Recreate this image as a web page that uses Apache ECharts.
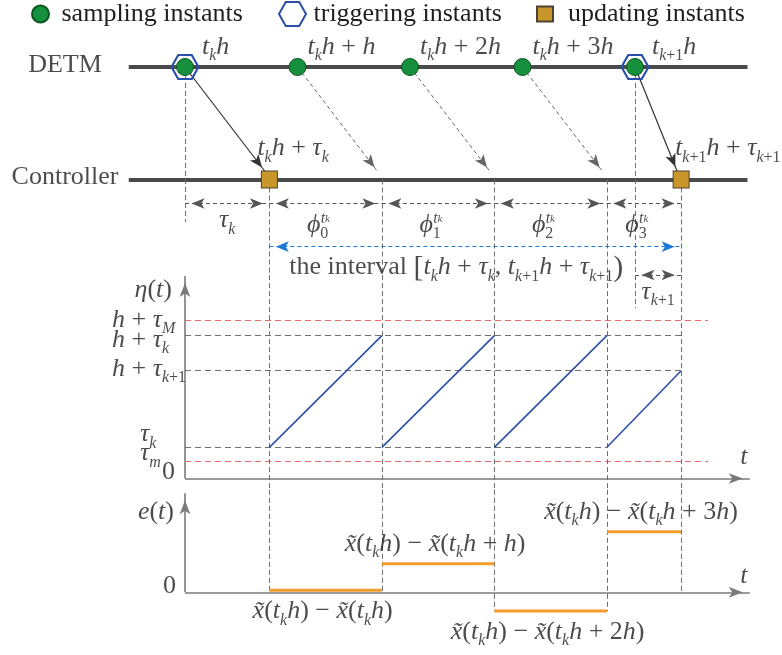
<!DOCTYPE html>
<html>
<head>
<meta charset="utf-8">
<script src="https://cdn.jsdelivr.net/npm/echarts@6/dist/echarts.min.js"></script>
<style>html,body{margin:0;padding:0;background:#fff}#c{width:782px;height:655px}</style>
</head>
<body>
<div id="c"></div>
<script>
// ---------------- data (time axis in units of h, t_k h = 0) ----------------
const samplingTimes = [0, 1, 2, 3, 4];              // t_k h + i h
const triggerTimes = [0, 4];                        // t_k h, t_{k+1} h
const arrivalTimes = [0.75, 1.75, 2.75, 3.75, 4.41]; // arrival instants at the controller
const updateTimes = [0.75, 4.41];                   // t_k h + tau_k, t_{k+1} h + tau_{k+1}
const intervalEdges = [0, 0.75, 1.75, 2.75, 3.75, 4.41];
const etaLevels = [1.403, 1.264, 0.954, 0.276, 0.149]; // h+tauM, h+tauk, h+tauk+1, tauk, taum
const etaLevelEnds = [4.65, 4.41, 4.41, 3.75, 4.65];
const etaLevelBound = [true, false, false, false, true];
const etaStarts = [0.276, 0.276, 0.276, 0.276];
const etaEnds = [1.264, 1.264, 1.264, 0.954];
const eValues = [0.02, 0.286, -0.187, 0.606];

// ---------------- texts ----------------
const legendNames = ['sampling instants', 'triggering instants', 'updating instants'];
const rowNames = ['DETM', 'Controller'];
const samplingLabels = [
  '{m|t}{s|k}{m|h}',
  '{m|t}{s|k}{m|h}{r| + }{m|h}',
  '{m|t}{s|k}{m|h}{r| + 2}{m|h}',
  '{m|t}{s|k}{m|h}{r| + 3}{m|h}',
  '{m|t}{s|k}{sr|+1}{m|h}'
];
const updateLabels = [
  '{m|t}{s|k}{m|h}{r| + }{m|τ}{s|k}',
  '{m|t}{s|k}{sr|+1}{m|h}{r| + }{m|τ}{s|k}{sr|+1}'
];
const intervalLabels = ['{m|τ}{s|k}', '{m|ϕ}{sr|0}', '{m|ϕ}{sr|1}', '{m|ϕ}{sr|2}', '{m|ϕ}{sr|3}'];
const intervalSup = '{p|t}{pk|k}';
const spanLabel = '{r|the interval }{br|[}{m|t}{s|k}{m|h}{r| + }{m|τ}{s|k}{r|, }{m|t}{s|k}{sr|+1}{m|h}{r| + }{m|τ}{s|k}{sr|+1}{br|)}';
const nextDelayLabel = '{m|τ}{s|k}{sr|+1}';
const etaName = '{m|η}{r|(}{m|t}{r|)}';
const etaLabels = [
  '{m|h}{r| + }{m|τ}{s|M}',
  '{m|h}{r| + }{m|τ}{s|k}',
  '{m|h}{r| + }{m|τ}{s|k}{sr|+1}',
  '{m|τ}{s|k}',
  '{m|τ}{s|m}'
];
const eName = '{m|e}{r|(}{m|t}{r|)}';
const eLabels = [
  '{m|x̃}{r|(}{m|t}{s|k}{m|h}{r|) − }{m|x̃}{r|(}{m|t}{s|k}{m|h}{r|)}',
  '{m|x̃}{r|(}{m|t}{s|k}{m|h}{r|) − }{m|x̃}{r|(}{m|t}{s|k}{m|h}{r| + }{m|h}{r|)}',
  '{m|x̃}{r|(}{m|t}{s|k}{m|h}{r|) − }{m|x̃}{r|(}{m|t}{s|k}{m|h}{r| + 2}{m|h}{r|)}',
  '{m|x̃}{r|(}{m|t}{s|k}{m|h}{r|) − }{m|x̃}{r|(}{m|t}{s|k}{m|h}{r| + 3}{m|h}{r|)}'
];
const zeroLabel = '{r|0}';
const timeName = '{m|t}';

// ---------------- layout & style ----------------
const FONT = '"Liberation Serif","Times New Roman",serif';
const INK = '#1e1e1e';
const DETM = 1, CTRL = 0;
const Y = {dim: -0.213, span: -0.597, next: -0.849, guideEnd: -0.85, t0End: -0.378, t4End: -1.142, tip: 0.06, gap: 0.03};
const C = {
  base: '#4a4a4a', guide: '#6e6e6e', dim: '#555', diag: '#666', solid: '#333', blue: '#1c7ad4',
  red: '#e86a6a', ref: '#707070', eta: '#2d50a6', e: '#f39c2b', axis: '#7a7a7a',
  green: '#16903c', greenB: '#0b5523', hex: '#2a4fa8', gold: '#c9962b', goldB: '#4a4232'
};
const HEX = 'path://M0,12 L6.75,0 L20.25,0 L27,12 L20.25,24 L6.75,24 Z';
const SQ = 'path://M0,0 L16,0 L16,15 L0,15 Z';

const rich = {
  r: {fontFamily: FONT, fontSize: 26, lineHeight: 34, color: INK},
  m: {fontFamily: FONT, fontStyle: 'italic', fontSize: 26, lineHeight: 34, color: INK},
  br: {fontFamily: FONT, fontSize: 30, lineHeight: 34, color: INK},
  s: {fontFamily: FONT, fontStyle: 'italic', fontSize: 16, lineHeight: 13, verticalAlign: 'bottom', color: INK},
  sr: {fontFamily: FONT, fontSize: 16, lineHeight: 13, verticalAlign: 'bottom', color: INK},
  p: {fontFamily: FONT, fontStyle: 'italic', fontSize: 16, lineHeight: 14, verticalAlign: 'top', color: INK},
  pk: {fontFamily: FONT, fontStyle: 'italic', fontSize: 11, lineHeight: 4, verticalAlign: 'bottom', color: INK}
};

const dash = (color, width, d) => ({color, width, type: d || [5, 3], opacity: 1});
const solid = (color, width) => ({color, width, type: 'solid', opacity: 1});

function seg(p1, p2, lineStyle, arrows, size) {
  const sz = size || [8, 13];
  const A = {symbol: 'arrow', symbolSize: sz, symbolOffset: [0, sz[1] / 2]};
  const N = {symbol: 'none'};
  return [Object.assign({coord: p1, lineStyle}, arrows === 2 ? A : N),
          Object.assign({coord: p2}, arrows >= 1 ? A : N)];
}
function decor(grid, lines, z) {
  return {
    type: 'line', xAxisIndex: grid, yAxisIndex: grid, data: [], z: z || 1, silent: true, animation: false,
    markLine: {silent: true, animation: false, symbol: 'none', label: {show: false},
      emphasis: {disabled: true}, data: lines}
  };
}
function lab(coord, text, dx, dy, align) {
  return {value: coord, text, label: {offset: [dx, dy], align: align || 'center'}};
}
function labels(grid, items) {
  return {
    type: 'scatter', xAxisIndex: grid, yAxisIndex: grid, symbolSize: 0, silent: true, animation: false, z: 10,
    label: {show: true, position: 'inside', verticalAlign: 'middle', formatter: p => p.data.text, rich},
    data: items
  };
}

// ---------- grid A: DETM / controller timelines ----------
const aLines = [
  seg([-0.5, DETM], [5.0, DETM], solid(C.base, 4), 0),
  seg([-0.5, CTRL], [5.0, CTRL], solid(C.base, 4), 0),
  seg([triggerTimes[0], DETM], [triggerTimes[0], Y.t0End], dash(C.guide, 1), 0),
  seg([triggerTimes[1], DETM], [triggerTimes[1], Y.t4End], dash(C.guide, 1), 0)
];
arrivalTimes.forEach(t => aLines.push(seg([t, CTRL], [t, Y.guideEnd], dash(C.guide, 1), 0)));
for (let i = 0; i < intervalEdges.length - 1; i++) {
  aLines.push(seg([intervalEdges[i], Y.dim], [intervalEdges[i + 1], Y.dim], dash(C.dim, 1, [4, 3]), 2, [8, 13]));
}
aLines.push(seg([updateTimes[0], Y.span], [updateTimes[1], Y.span], dash(C.blue, 1.2, [4, 3]), 2, [8, 13]));
aLines.push(seg([triggerTimes[1], Y.next], [updateTimes[1], Y.next], dash(C.dim, 1, [4, 3]), 2, [8, 13]));

const txLines = samplingTimes.map((s, i) => {
  const trig = triggerTimes.indexOf(s) >= 0;
  return seg([s, DETM], [arrivalTimes[i] - Y.gap, Y.tip],
    trig ? solid(C.solid, 1.2) : dash(C.diag, 1, [4, 3]), 1, [8, 13]);
});

const aLabels = [];
rowNames.forEach((n, i) => aLabels.push(lab([-0.5, i === 0 ? DETM : CTRL], '{r|' + n + '}', -63.75, -2)));
samplingLabels.forEach((t, i) => aLabels.push(
  lab([samplingTimes[i], DETM], t, triggerTimes.indexOf(samplingTimes[i]) >= 0 ? 17 : 10, -20, 'left')));
updateLabels.forEach((t, i) => aLabels.push(lab([updateTimes[i], CTRL], t, i === 0 ? -12 : -6, -31, 'left')));
intervalLabels.forEach((t, i) => {
  const mid = (intervalEdges[i] + intervalEdges[i + 1]) / 2;
  if (i === 0) { aLabels.push(lab([mid, Y.dim], t, 0, 17)); return; }
  aLabels.push(lab([mid, Y.dim], t, -8, 21.5));
  aLabels.push(lab([mid, Y.dim], intervalSup, -5, 14.5, 'left'));
});
aLabels.push(lab([(updateTimes[0] + updateTimes[1]) / 2, Y.span], spanLabel, -19, 21));
aLabels.push(lab([(triggerTimes[1] + updateTimes[1]) / 2, Y.next], nextDelayLabel, 0, 17));

// ---------- grid B: eta(t) ----------
const bLines = [
  seg([0, 0], [0, 1.792], solid(C.axis, 1.6), 1, [8, 14]),
  seg([0, 0], [5.02, 0], solid(C.axis, 1.6), 1, [8, 14])
];
etaLevels.forEach((v, i) => bLines.push(
  seg([0, v], [etaLevelEnds[i], v], etaLevelBound[i] ? dash(C.red, 1, [6, 4]) : dash(C.ref, 1, [6, 4]), 0)));
arrivalTimes.forEach(t => bLines.push(seg([t, 1.8], [t, -0.1], dash(C.guide, 1), 0)));

const etaSeries = etaStarts.map((v, i) => ({
  type: 'line', xAxisIndex: 1, yAxisIndex: 1, silent: true, animation: false, showSymbol: false, z: 5,
  lineStyle: {color: C.eta, width: 1.6},
  data: [[arrivalTimes[i], v], [arrivalTimes[i + 1], etaEnds[i]]]
}));

const etaDy = [0, 4.5, -2, -13, -8];
const bLabels = [lab([0, 1.792], etaName, -13, 14, 'right')];
etaLabels.forEach((t, i) => bLabels.push(lab([0, etaLevels[i]], t, i < 3 ? -73 : -45, etaDy[i], 'left')));
bLabels.push(lab([0, 0], zeroLabel, -23, -6.5, 'left'));
bLabels.push(lab([5.02, 0], timeName, -6, -21));

// ---------- grid C: e(t) ----------
const cLines = [
  seg([0, 0], [0, 0.99], solid(C.axis, 1.6), 1, [8, 14]),
  seg([0, 0], [5.02, 0], solid(C.axis, 1.6), 1, [8, 14])
];
arrivalTimes.forEach((t, i) => {
  const neighbours = [0];
  if (i > 0) neighbours.push(eValues[i - 1]);
  if (i < eValues.length) neighbours.push(eValues[i]);
  cLines.push(seg([t, 1.025], [t, Math.min.apply(null, neighbours)], dash(C.guide, 1), 0));
});
const eSeries = eValues.map((v, i) => ({
  type: 'line', xAxisIndex: 2, yAxisIndex: 2, silent: true, animation: false, showSymbol: false, z: 5,
  lineStyle: {color: C.e, width: 3},
  data: [[arrivalTimes[i], v], [arrivalTimes[i + 1], v]]
}));
const cLabels = [lab([0, 0.99], eName, -11, 19, 'right'), lab([0, 0], zeroLabel, -22, -6, 'left'),
  lab([5.02, 0], timeName, -6, -16)];
eLabels.forEach((t, i) => cLabels.push(
  lab([(arrivalTimes[i] + arrivalTimes[i + 1]) / 2, eValues[i]], t, -3, eValues[i] > 0.1 ? -20 : 21)));

// ---------- marks ----------
const markSeries = [
  {name: legendNames[1], type: 'scatter', xAxisIndex: 0, yAxisIndex: 0, z: 6, silent: true, animation: false,
   symbol: HEX, symbolSize: [27, 24],
   itemStyle: {color: 'rgba(255,255,255,0)', borderColor: C.hex, borderWidth: 2, opacity: 1},
   data: triggerTimes.map(t => [t, DETM])},
  {name: legendNames[0], type: 'scatter', xAxisIndex: 0, yAxisIndex: 0, z: 7, silent: true, animation: false,
   symbol: 'circle', symbolSize: 17, itemStyle: {color: C.green, borderColor: C.greenB, borderWidth: 1, opacity: 1},
   data: samplingTimes.map(t => [t, DETM])},
  {name: legendNames[2], type: 'scatter', xAxisIndex: 0, yAxisIndex: 0, z: 6, silent: true, animation: false,
   symbol: 'rect', symbolSize: [16, 17], itemStyle: {color: C.gold, borderColor: C.goldB, borderWidth: 1, opacity: 1},
   data: updateTimes.map(t => [t, CTRL])}
];

const gridBase = {left: 128.75, width: 624.375, containLabel: false};
const xa = i => ({type: 'value', gridIndex: i, min: -0.5, max: 5.05, show: false});
const legendText = {fontFamily: FONT, fontSize: 26, color: INK};

const option = {
  animation: false,
  textStyle: {fontFamily: FONT},
  grid: [
    Object.assign({top: 10.75, height: 303.75}, gridBase),
    Object.assign({top: 275.1, height: 214.7}, gridBase),
    Object.assign({top: 489.8, height: 164.5}, gridBase)
  ],
  xAxis: [xa(0), xa(1), xa(2)],
  yAxis: [
    {type: 'value', gridIndex: 0, min: -1.2, max: 1.5, show: false},
    {type: 'value', gridIndex: 1, min: -0.1, max: 1.8, show: false},
    {type: 'value', gridIndex: 2, min: -0.62, max: 1.025, show: false}
  ],
  legend: [
    {data: [{name: legendNames[0], icon: 'circle'}], left: 31, top: 1, padding: 0, itemWidth: 32, itemHeight: 17,
     selectedMode: false, textStyle: legendText},
    {data: [{name: legendNames[1], icon: HEX, itemStyle: {color: 'rgba(255,255,255,0)', borderColor: C.hex, borderWidth: 2}}],
     left: 278, top: 1, padding: 0, itemWidth: 32, itemHeight: 24, selectedMode: false, textStyle: legendText},
    {data: [{name: legendNames[2], icon: SQ}], left: 536, top: 1, padding: 0, itemWidth: 36, itemHeight: 15,
     selectedMode: false, textStyle: legendText}
  ],
  series: [
    decor(0, aLines, 1),
    decor(0, txLines, 8),
    ...markSeries,
    labels(0, aLabels),
    decor(1, bLines, 1),
    ...etaSeries,
    labels(1, bLabels),
    decor(2, cLines, 1),
    ...eSeries,
    labels(2, cLabels)
  ]
};

const chart = echarts.init(document.getElementById('c'), null, {renderer: 'canvas'});
chart.setOption(option);
</script>
</body>
</html>
